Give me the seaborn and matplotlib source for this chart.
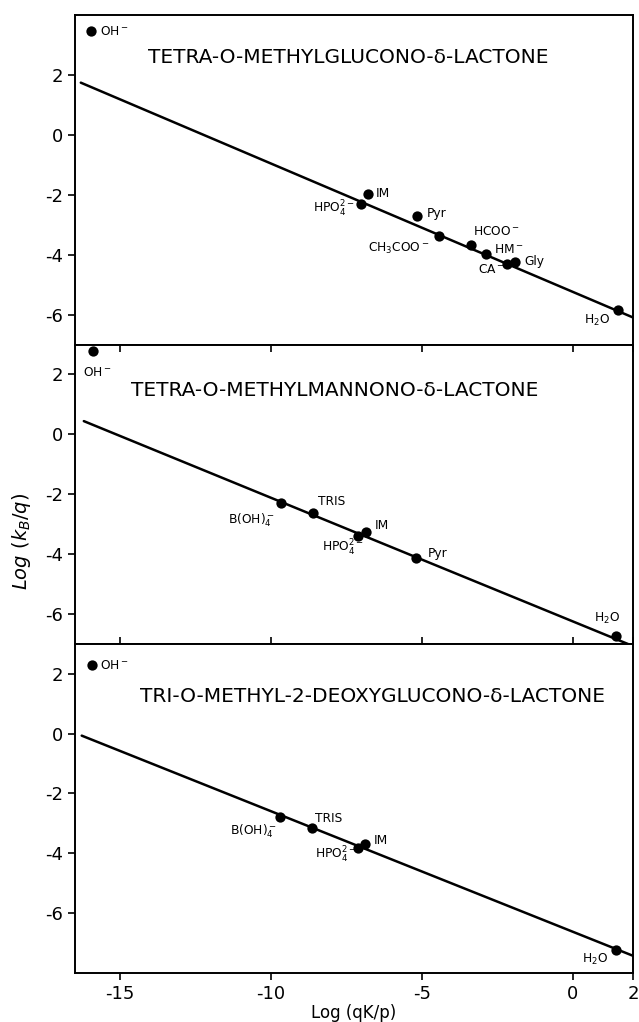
import numpy as np
import pandas as pd
import seaborn as sns
import matplotlib.pyplot as plt

sns.set_style("ticks")
plt.rcParams["font.family"] = ["DejaVu Sans"]
plt.rcParams["axes.unicode_minus"] = False
plt.rcParams["text.color"] = "black"
plt.rcParams["axes.labelcolor"] = "black"
plt.rcParams["xtick.color"] = "black"
plt.rcParams["ytick.color"] = "black"
plt.rcParams["axes.edgecolor"] = "black"

# tetra-O-methylglucono-delta-lactone
glu_x = [-15.97, -6.78, -7.03, -5.16, -4.43, -3.36, -2.88, -2.17, -1.92, 1.50]
glu_y = [3.46, -1.98, -2.29, -2.71, -3.39, -3.69, -3.99, -4.30, -4.24, -5.86]
glu_lab = ["OH$^-$", "IM", "HPO$_4^{2-}$", "Pyr", "CH$_3$COO$^-$", "HCOO$^-$",
           "HM$^-$", "CA$^-$", "Gly", "H$_2$O"]
glu_fit_x = [-16.3, 2.0]
glu_fit_y = [1.75, -6.10]

# tetra-O-methylmannono-delta-lactone
man_x = [-15.9, -9.67, -8.60, -7.11, -6.85, -5.18, 1.42]
man_y = [2.78, -2.28, -2.64, -3.39, -3.26, -4.13, -6.74]
man_lab = ["OH$^-$", "B(OH)$_4^-$", "TRIS", "HPO$_4^{2-}$", "IM", "Pyr", "H$_2$O"]
man_fit_x = [-16.2, 2.0]
man_fit_y = [0.44, -7.08]

# tri-O-methyl-2-deoxyglucono-delta-lactone
deo_x = [-15.94, -9.70, -8.65, -7.11, -6.89, 1.42]
deo_y = [2.29, -2.78, -3.15, -3.82, -3.68, -7.22]
deo_lab = ["OH$^-$", "B(OH)$_4^-$", "TRIS", "HPO$_4^{2-}$", "IM", "H$_2$O"]
deo_fit_x = [-16.27, 2.0]
deo_fit_y = [-0.07, -7.43]

titles = ["TETRA-O-METHYLGLUCONO-δ-LACTONE",
          "TETRA-O-METHYLMANNONO-δ-LACTONE",
          "TRI-O-METHYL-2-DEOXYGLUCONO-δ-LACTONE"]

# label offsets (pixels) and alignment
glu_off = [(9, 0, "left"), (8, 1, "left"), (-6, -5, "right"), (10, 3, "left"),
           (-10, -12, "right"), (2, 14, "left"), (8, 5, "left"),
           (-2, -6, "right"), (9, 0, "left"), (-8, -10, "right")]
man_off = [(-10, -21, "left"), (-6, -18, "right"), (5, 12, "left"),
           (5, -12, "right"), (9, 6, "left"), (11, 4, "left"), (-9, 18, "center")]
deo_off = [(8, 0, "left"), (-3, -15, "right"), (3, 9, "left"),
           (-2, -7, "right"), (9, 3, "left"), (-8, -10, "right")]

panels = [
    (glu_x, glu_y, glu_lab, glu_fit_x, glu_fit_y, glu_off, (-7, 4), (0.49, 0.873)),
    (man_x, man_y, man_lab, man_fit_x, man_fit_y, man_off, (-7, 3), (0.466, 0.846)),
    (deo_x, deo_y, deo_lab, deo_fit_x, deo_fit_y, deo_off, (-8, 3), (0.534, 0.839)),
]

fig, axes = plt.subplots(3, 1, figsize=(6.39, 10.22), dpi=100, sharex=True,
                         gridspec_kw={"height_ratios": [11, 10, 11], "hspace": 0})
fig.subplots_adjust(left=0.117, right=0.991, top=0.985, bottom=0.048)

for i, (ax, (px, py, lab, fx, fy, off, ylim, tpos)) in enumerate(zip(axes, panels)):
    pts = pd.DataFrame({"x": px, "y": py})
    fit = pd.DataFrame({"x": fx, "y": fy})
    sns.lineplot(data=fit, x="x", y="y", ax=ax, color="black", lw=1.8)
    sns.scatterplot(data=pts, x="x", y="y", ax=ax, color="black", s=55,
                    edgecolor="black", linewidth=0, zorder=3)
    for x, y, t, (dx, dy, ha) in zip(px, py, lab, off):
        ax.annotate(t, (x, y), xytext=(dx, dy), textcoords="offset pixels",
                    ha=ha, va="center", fontsize=8.8)
    ax.text(tpos[0], tpos[1], titles[i], transform=ax.transAxes, ha="center",
            va="center", fontsize=14.5)
    ax.set_xlim(-16.5, 2)
    ax.set_ylim(*ylim)
    ax.set_yticks([-6, -4, -2, 0, 2])
    ax.set_xlabel("")
    ax.set_ylabel("")
    for s in ax.spines.values():
        s.set_visible(True)
        s.set_linewidth(1.4)
    ax.tick_params(axis="y", direction="out", length=5, width=1.2, labelsize=13)
    ax.tick_params(axis="x", direction="in", length=5, width=1.2,
                   top=(i > 0), bottom=(i == 2), labelsize=13)

axes[2].tick_params(axis="x", which="both", direction="out", bottom=True)
axes[2].set_xticks([-15, -10, -5, 0, 2])
axes[2].set_xlabel("Log (qK/p)", fontsize=12)
axes[2].xaxis.labelpad = 1
fig.text(0.034, 0.47, "$Log\\ (k_B/q)$", rotation=90, ha="center", va="center",
         fontsize=14)

plt.savefig("out.png", dpi=100)
